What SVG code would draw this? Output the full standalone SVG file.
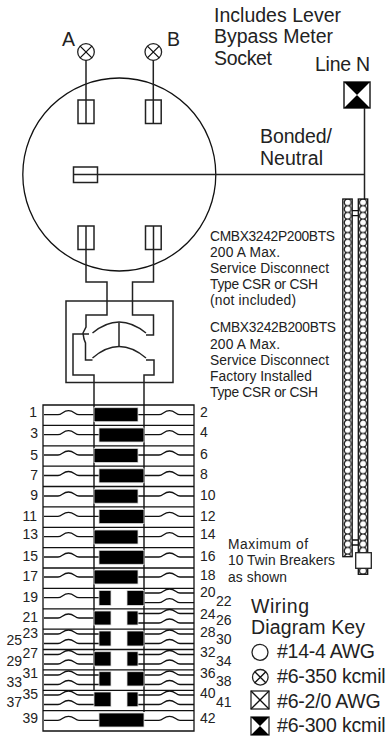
<svg xmlns="http://www.w3.org/2000/svg" xmlns:xlink="http://www.w3.org/1999/xlink" width="388" height="736" viewBox="0 0 388 736">
<style>
text{font-family:"Liberation Sans",Arial,sans-serif;fill:#222}
.l{fill:none;stroke:#111;stroke-width:1.3}
.w{fill:none;stroke:#222;stroke-width:1.5}
.b{fill:#fff;stroke:#222;stroke-width:1.3}
.k{fill:#000;stroke:#ddd;stroke-width:.8}
.s18{font-size:19.500px}
.s13{font-size:13.800px}
.n{font-size:14px}
.e{text-anchor:end}
</style>
<defs>
<path id="wl" class="l" d="M44 0H58C62 0 63-4 68.500-4S75 0 79 0H99"/>
<path id="wr" class="l" d="M138 0H159C163 0 164-4 169.500-4S176 0 180 0H194"/>
<pattern id="chain" x="343" y="199" width="9.400" height="6.700" patternUnits="userSpaceOnUse">
<circle cx="4.700" cy="3.350" r="3.500" fill="#fff" stroke="#111" stroke-width="1.300"/>
</pattern>
<pattern id="chain2" x="358.300" y="199" width="9.400" height="6.700" patternUnits="userSpaceOnUse">
<circle cx="4.700" cy="3.350" r="3.500" fill="#fff" stroke="#111" stroke-width="1.300"/>
</pattern>
</defs>

<g id="meter-socket"><circle class="l" cx="119.300" cy="174.500" r="96.500"/></g>
<g id="connectors">
<path class="w" d="M86 60V124M153.300 60V124"/>
<path class="w" d="M73.500 174.500H364.500M364.500 108V199"/>
<path class="w" d="M86 226V282H107V315H86V327L83 333L84 339L85.500 343V360H92.500"/>
<path class="w" d="M153.500 226V282H132.500V315H153.500V335H146"/>
<path class="w" d="M89 334H73V375H94V690"/>
<path class="w" d="M146 360H154V375H144V712"/>
<path class="w" d="M119 322.500V346"/>
</g>

<g id="terminal-a"><circle class="b" cx="86" cy="52" r="8.300"/><path class="l" d="M80.100 46.100L91.900 57.900M91.900 46.100L80.100 57.900"/><text class="s18" x="62" y="46">A</text></g>
<g id="terminal-b"><circle class="b" cx="153.300" cy="52" r="8.300"/><path class="l" d="M147.400 46.100L159.200 57.900M159.200 46.100L147.400 57.900"/><text class="s18" x="167" y="46">B</text></g>
<g id="jaw-top-left"><rect class="w" x="78" y="100" width="16" height="23.500"/></g>
<g id="jaw-top-right"><rect class="w" x="145.500" y="100" width="15.700" height="23.500"/></g>
<g id="jaw-neutral"><rect class="w" x="73.500" y="167" width="24" height="15.500"/></g>
<g id="jaw-bottom-left"><rect class="w" x="78" y="226" width="16" height="23.500"/></g>
<g id="jaw-bottom-right"><rect class="w" x="145.500" y="226" width="15.700" height="23.500"/></g>
<g id="disconnect">
<rect class="w" x="66" y="301" width="107" height="81.500"/>
<path class="w" d="M92.500 333Q119 311 146 333M92.500 358Q119 335 146 358"/>
</g>

<g id="panel">
<path class="l" d="M43 405H194V731H43Z"/>
<path class="l" d="M43 425.400H194M43 445.800H194M43 466.100H194M43 486.500H194M43 506.900H194M43 527.300H194M43 547.600H194M43 568H194M43 588.400H194M43 608.800H194M43 629.100H194M43 649.500H194M43 669.900H194M43 690.300H194M43 710.600H194"/>
</g>

<g id="row-1"><use href="#wl" y="414.700"/><use href="#wr" y="414.700"/><rect class="k" x="94" y="407.700" width="44" height="14"/><text class="n e" x="37" y="417">1</text><text class="n" x="200" y="417">2</text></g>
<g id="row-3"><use href="#wl" y="434.700"/><use href="#wr" y="434.700"/><rect class="k" x="99" y="428" width="45" height="14"/><text class="n e" x="38" y="438.300">3</text><text class="n" x="200" y="437">4</text></g>
<g id="row-5"><use href="#wl" y="455"/><use href="#wr" y="455"/><rect class="k" x="94" y="448.500" width="44" height="14"/><text class="n e" x="38" y="460">5</text><text class="n" x="200" y="459">6</text></g>
<g id="row-7"><use href="#wl" y="475.500"/><use href="#wr" y="475.500"/><rect class="k" x="99" y="468.800" width="45" height="14"/><text class="n e" x="38" y="480">7</text><text class="n" x="200" y="479">8</text></g>
<g id="row-9"><use href="#wl" y="496"/><use href="#wr" y="496"/><rect class="k" x="94" y="489.200" width="44" height="14"/><text class="n e" x="38" y="500">9</text><text class="n" x="200" y="500">10</text></g>
<g id="row-11"><use href="#wl" y="516.300"/><use href="#wr" y="516.300"/><rect class="k" x="99" y="509.600" width="45" height="14"/><text class="n e" x="37" y="521">11</text><text class="n" x="200" y="520.700">12</text></g>
<g id="row-13"><use href="#wl" y="536.700"/><use href="#wr" y="536.700"/><rect class="k" x="94" y="530" width="44" height="14"/><text class="n e" x="38" y="539">13</text><text class="n" x="200" y="538.700">14</text></g>
<g id="row-15"><use href="#wl" y="557"/><use href="#wr" y="557"/><rect class="k" x="99" y="550.300" width="45" height="14"/><text class="n e" x="38" y="561">15</text><text class="n" x="200" y="560.700">16</text></g>
<g id="row-17"><use href="#wl" y="577"/><use href="#wr" y="577"/><rect class="k" x="94" y="570" width="44" height="14"/><text class="n e" x="38" y="580.700">17</text><text class="n" x="200" y="580">18</text></g>
<g id="row-19"><use href="#wl" y="597.700"/><use href="#wr" y="593"/><use href="#wr" y="602.700"/><rect class="k" x="99" y="590.400" width="12" height="15"/><rect class="k" x="127" y="590.400" width="17" height="15"/><text class="n e" x="38" y="601.700">19</text><text class="n" x="200" y="596.700">20</text><text class="n" x="216" y="606">22</text></g>
<g id="row-21"><use href="#wl" y="618"/><use href="#wr" y="613.500"/><use href="#wr" y="623"/><rect class="k" x="94" y="611" width="17" height="14"/><rect class="k" x="127" y="611" width="11" height="14"/><text class="n e" x="38" y="621.700">21</text><text class="n" x="200" y="618.700">24</text><text class="n" x="216" y="625">26</text></g>
<g id="row-23"><use href="#wl" y="634"/><use href="#wl" y="643.500"/><use href="#wr" y="634"/><use href="#wr" y="643.500"/><rect class="k" x="99" y="631" width="12" height="15"/><rect class="k" x="127" y="631" width="17" height="15"/><text class="n e" x="38" y="638">23</text><text class="n e" x="22" y="645">25</text><text class="n" x="200" y="637">28</text><text class="n" x="216" y="644">30</text></g>
<g id="row-27"><use href="#wl" y="654.500"/><use href="#wl" y="664"/><use href="#wr" y="654.500"/><use href="#wr" y="664"/><rect class="k" x="94" y="651.700" width="17" height="14.300"/><rect class="k" x="127" y="651.700" width="11" height="14.300"/><text class="n e" x="38" y="658">27</text><text class="n e" x="22" y="666">29</text><text class="n" x="200" y="657">32</text><text class="n" x="216" y="665.700">34</text></g>
<g id="row-31"><use href="#wl" y="675"/><use href="#wl" y="684.500"/><use href="#wr" y="675"/><use href="#wr" y="684.500"/><rect class="k" x="99" y="671.700" width="12" height="14.300"/><rect class="k" x="127" y="671.700" width="17" height="14.300"/><text class="n e" x="38" y="678">31</text><text class="n e" x="22" y="686.700">33</text><text class="n" x="200" y="678">36</text><text class="n" x="216" y="686">38</text></g>
<g id="row-35"><use href="#wl" y="695"/><use href="#wl" y="704.500"/><use href="#wr" y="695"/><use href="#wr" y="704.500"/><rect class="k" x="94" y="692" width="17" height="14.700"/><rect class="k" x="127" y="692" width="11" height="14.700"/><text class="n e" x="38" y="699">35</text><text class="n e" x="22" y="707">37</text><text class="n" x="200" y="698">40</text><text class="n" x="216" y="706.700">41</text></g>
<g id="row-39"><use href="#wl" y="720.300"/><use href="#wr" y="720.300"/><rect class="k" x="99" y="713" width="45" height="14"/><text class="n e" x="38" y="723">39</text><text class="n" x="200" y="723">42</text></g>

<g id="line-n"><rect class="w" x="344" y="82" width="26" height="26" fill="#fff"/><path d="M344 82H370L344 108H370Z" fill="#000"/><text class="s18" x="315" y="70.700" textLength="55">Line N</text></g>
<g id="neutral-bars">
<path class="l" d="M352 210.700H358M352 215.700H358M352 540H358M352 545H358"/>
<rect x="342.800" y="199" width="9.400" height="357.700" fill="url(#chain)" stroke="#111" stroke-width="1.300"/>
<rect x="358.300" y="199" width="9.400" height="375.300" fill="url(#chain2)" stroke="#111" stroke-width="1.300"/>
<rect class="b" x="355.700" y="552.700" width="15.600" height="15.600"/>
</g>

<g id="notes">
<text class="s18" x="214" y="21.700" textLength="127">Includes Lever</text>
<text class="s18" x="214" y="43" textLength="119">Bypass Meter</text>
<text class="s18" x="214" y="65" textLength="58">Socket</text>
<text class="s18" x="260" y="143.300" textLength="72">Bonded/</text>
<text class="s18" x="260" y="165" textLength="63">Neutral</text>
<text class="s13" x="210" y="240.700" textLength="125">CMBX3242P200BTS</text>
<text class="s13" x="210" y="257.300" textLength="70">200 A Max.</text>
<text class="s13" x="210" y="273.300" textLength="119">Service Disconnect</text>
<text class="s13" x="210" y="289" textLength="108">Type CSR or CSH</text>
<text class="s13" x="210" y="305" textLength="86">(not included)</text>
<text class="s13" x="210" y="332.300" textLength="126">CMBX3242B200BTS</text>
<text class="s13" x="210" y="349" textLength="70">200 A Max.</text>
<text class="s13" x="210" y="365" textLength="119">Service Disconnect</text>
<text class="s13" x="210" y="381" textLength="102">Factory Installed</text>
<text class="s13" x="210" y="397" textLength="108">Type CSR or CSH</text>
<text class="s13" x="228" y="549.300" textLength="80">Maximum of</text>
<text class="s13" x="228" y="565.300" textLength="107">10 Twin Breakers</text>
<text class="s13" x="228" y="581.700" textLength="59">as shown</text>
</g>

<g id="wiring-key">
<text class="s18" x="251" y="612.700" textLength="58">Wiring</text>
<text class="s18" x="251" y="634.300" textLength="114">Diagram Key</text>
<circle class="b" cx="260" cy="652.300" r="8"/>
<text class="s18" x="277" y="658" textLength="98">#14-4 AWG</text>
<circle class="b" cx="260.300" cy="677.300" r="7.800"/>
<path class="l" d="M254.800 671.800L265.800 682.800M265.800 671.800L254.800 682.800"/>
<text class="s18" x="277" y="683" textLength="108.700">#6-350 kcmil</text>
<rect class="b" x="251" y="691" width="18" height="18"/>
<path class="l" d="M251 691L269 709M269 691L251 709"/>
<text class="s18" x="277" y="707.700" textLength="103.700">#6-2/0 AWG</text>
<rect class="b" x="251" y="717" width="18" height="18"/>
<path d="M251 717H269L251 735H269Z" fill="#000"/>
<text class="s18" x="277" y="731.700" textLength="108.700">#6-300 kcmil</text>
</g>
</svg>
